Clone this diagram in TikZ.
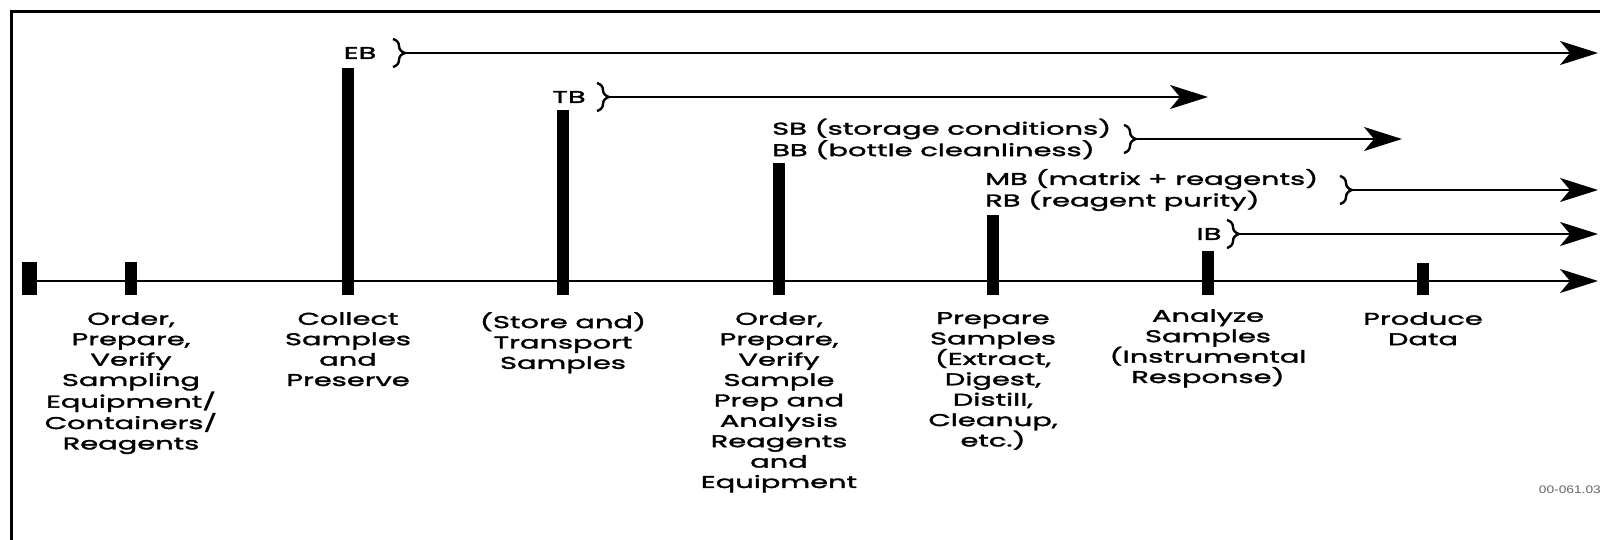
\documentclass[tikz,border=0pt]{standalone}
\usepackage{fontspec}
\setmainfont{Poppins}[FakeStretch=1.7, FakeBold=2]
\newfontfamily\idfont{Liberation Sans}[FakeStretch=1.25]
\usetikzlibrary{arrows.meta,positioning,decorations.pathreplacing}
\tikzstyle{bar} = [rectangle, fill=black, inner sep=0pt,
	minimum width=12pt, anchor=south]
\tikzstyle{stage} = [align=center, inner sep=0pt,
	font=\fontsize{17}{20.4}\selectfont]
\tikzstyle{blank} = [align=left, inner sep=0pt,
	font=\fontsize{17}{20.4}\selectfont]
\tikzstyle{line} = [draw, line width=2pt,
	-{Stealth[length=38pt,width=24pt,inset=10pt]}]
\tikzstyle{brace} = [draw, line width=2.4pt, decorate,
	decoration={brace,amplitude=12pt}]

\begin{document}
\begin{tikzpicture}[x=1pt, y=-1pt]
	\path [use as bounding box] (0,0) rectangle (1600,540);
	\clip (0,0) rectangle (1600,540);
	\draw [line width=3pt] (11,560) |- (1620,12);

	% Place nodes
	\node [bar, minimum width=15pt, minimum height=33pt] (start) at (29,295) {};
	\node [bar, minimum height=33pt] (order) at (131,295) {};
	\node [bar, minimum height=227pt] (collect) at (348,295) {};
	\node [bar, minimum height=185pt] (transport) at (563,295) {};
	\node [bar, minimum height=132pt] (reagents) at (779,295) {};
	\node [bar, minimum height=80pt] (prepare) at (993,295) {};
	\node [bar, minimum height=44pt] (analyze) at (1208,295) {};
	\node [bar, minimum height=32pt] (produce) at (1423,295) {};
	\coordinate (axisstart) at (22,281);
	\coordinate (axisend) at (1598,281);

	\node [stage, below=17pt of order] (orderTxt) {Order,\\Prepare,\\Verify\\Sampling\\Equipment/\\Containers/\\Reagents};
	\node [stage, below=17pt of collect] (collectTxt) {Collect\\Samples\\and\\Preserve};
	\node [stage, below=17pt of transport] (transportTxt) {(Store and)\\Transport\\Samples};
	\node [stage, below=17pt of reagents] (reagentsTxt) {Order,\\Prepare,\\Verify\\Sample\\Prep and\\Analysis\\Reagents\\and\\Equipment};
	\node [stage, below=17pt of prepare] (prepareTxt) {Prepare\\Samples\\(Extract,\\Digest,\\Distill,\\Cleanup,\\etc.)};
	\node [stage, below=14pt of analyze] (analyzeTxt) {Analyze\\Samples\\(Instrumental\\Response)};
	\node [stage, below=17pt of produce] (produceTxt) {Produce\\Data};

	\node [blank] (EB) at (360,53) {EB};
	\node [blank] (TB) at (569,97) {TB};
	\node [blank, anchor=west] (SB) at (772,139) {SB (storage conditions)\\BB (bottle cleanliness)};
	\node [blank, anchor=west] (MB) at (985,190) {MB (matrix + reagents)\\RB (reagent purity)};
	\node [blank] (IB) at (1209,234) {IB};
	\node [anchor=east, inner sep=0pt, text=black!60, font=\idfont\fontsize{11}{12}\selectfont] (figid) at (1601,490) {00-061.03};

	\coordinate (ebtip) at (405,53);   \coordinate (ebend) at (1598,53);
	\coordinate (tbtip) at (609,97);   \coordinate (tbend) at (1208,97);
	\coordinate (sbtip) at (1136,139); \coordinate (sbend) at (1402,139);
	\coordinate (mbtip) at (1352,190); \coordinate (mbend) at (1598,190);
	\coordinate (ibtip) at (1239,234); \coordinate (ibend) at (1598,234);

	% Draw braces
	\draw [brace] (393,39) -- (393,67);
	\draw [brace] (597,83) -- (597,111);
	\draw [brace] (1124,125) -- (1124,153);
	\draw [brace] (1340,176) -- (1340,204);
	\draw [brace] (1227,220) -- (1227,248);

	% Draw edges
	\path [line] (axisstart) -- (axisend);
	\path [line] (ebtip) -- (ebend);
	\path [line] (tbtip) -- (tbend);
	\path [line] (sbtip) -- (sbend);
	\path [line] (mbtip) -- (mbend);
	\path [line] (ibtip) -- (ibend);
\end{tikzpicture}
\end{document}
